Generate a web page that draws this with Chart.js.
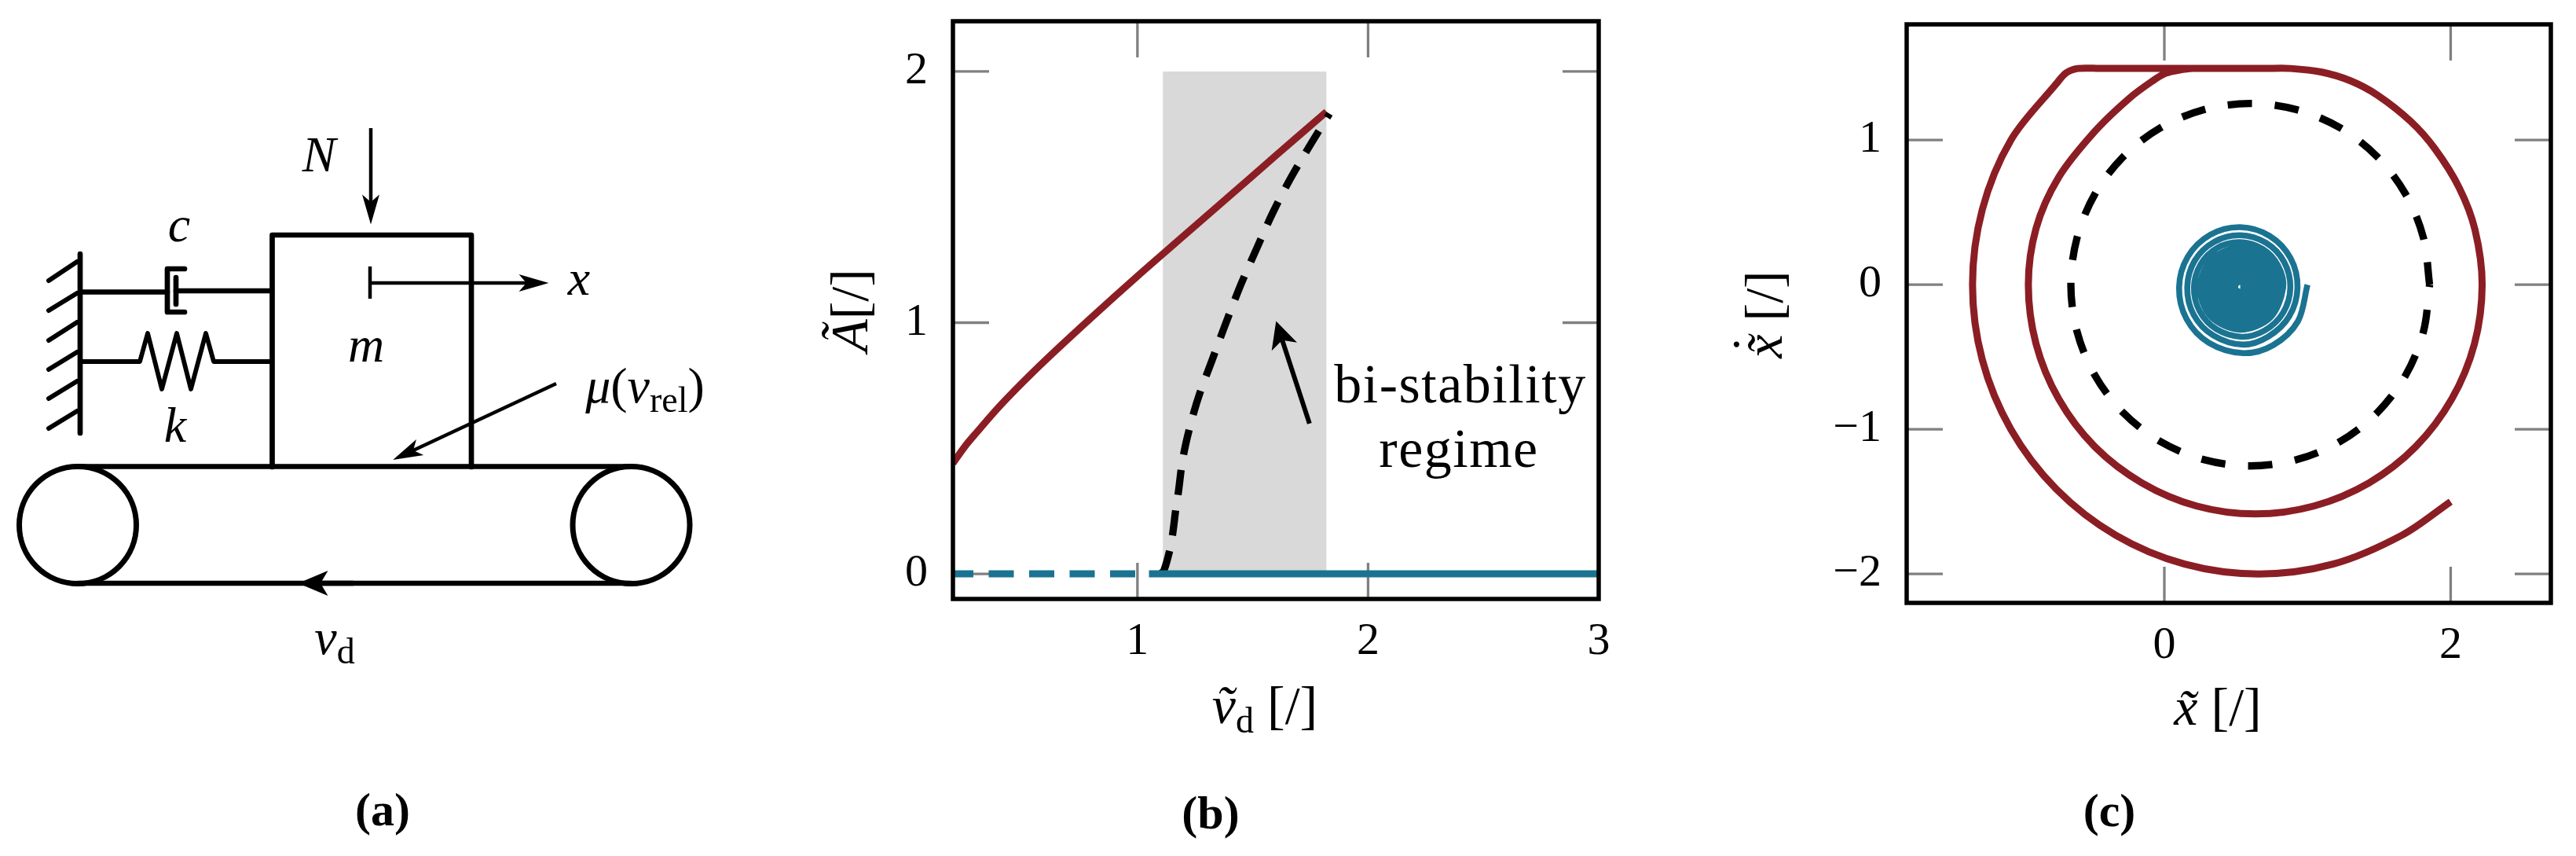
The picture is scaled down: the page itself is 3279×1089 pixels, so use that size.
<!DOCTYPE html>
<html>
<head>
<meta charset="utf-8">
<style>
  html, body { margin: 0; padding: 0; background: #fff; }
  canvas { position: absolute; left: 0; top: 0; }
</style>
<script src="https://cdn.jsdelivr.net/npm/chart.js@4/dist/chart.umd.min.js"></script>
</head>
<body>
<canvas id="panelA" width="1100" height="1089"></canvas>
<canvas id="panelB" width="3279" height="1089"></canvas>
<canvas id="panelC" width="3279" height="1089"></canvas>
<script>
const RED = '#8b1e24', BLUE = '#1b7392', GREY = '#d9d9d9', TICK = '#808080';
const SERIF = '"Liberation Serif"';

// panel (b)
const bTicksX = [1, 2, 3];
const bTicksY = [0, 1, 2];
const bandEdges = [[1.11, 2], [1.82, 2]];
const bUpper = [[0.2, 0.44], [0.25, 0.505], [0.3, 0.56], [0.4, 0.665], [0.5, 0.76], [0.6, 0.85], [0.8, 1.02], [1, 1.185], [1.2, 1.345], [1.4, 1.505], [1.6, 1.665], [1.82, 1.84]];
const bUnstable = [[1.1, 0], [1.115, 0.014], [1.141, 0.098], [1.153, 0.161], [1.166, 0.255], [1.177, 0.322], [1.197, 0.46], [1.231, 0.598], [1.27, 0.718], [1.323, 0.849], [1.38, 0.99], [1.449, 1.153], [1.517, 1.295], [1.586, 1.436], [1.666, 1.578], [1.757, 1.719], [1.833, 1.832]];
const bZeroDashed = [[0.2, 0], [1.05, 0]];
const bZeroSolid = [[1.05, 0], [3, 0]];
const bArrow = [[1.746, 0.598], [1.628, 0.93]];

// panel (c)
const cTicksX = [0, 2];
const cTicksY = [-2, -1, 0, 1];
const cRed = [[2, -1.5], [1.66, -1.732], [1.178, -1.932], [0.66, -2], [0.142, -1.932], [-0.34, -1.732], [-0.754, -1.414], [-1.072, -1], [-1.272, -0.518], [-1.34, 0], [-1.272, 0.518], [-1.072, 1], [-0.754, 1.39], [-0.685, 1.465], [-0.603, 1.495], [-0.45, 1.495], [0.7, 1.495], [0.88, 1.495], [1.1, 1.47], [1.3, 1.41], [1.49, 1.31], [1.72, 1.13], [1.89, 0.94], [2.06, 0.67], [2.17, 0.38], [2.22, 0], [2.166, -0.41], [2.008, -0.79], [1.756, -1.12], [1.43, -1.37], [1.045, -1.53], [0.635, -1.585], [0.225, -1.53], [-0.157, -1.37], [-0.486, -1.12], [-0.738, -0.79], [-0.896, -0.41], [-0.95, 0], [-0.896, 0.39], [-0.74, 0.74], [-0.484, 1.062], [-0.245, 1.289], [-0.082, 1.409], [0.009, 1.462], [0.1, 1.483], [0.2, 1.495], [0.4, 1.495]];
const cLimitCycle = [[1.853, 0], [1.81, -0.324], [1.685, -0.627], [1.486, -0.886], [1.227, -1.085], [0.924, -1.21], [0.6, -1.253], [0.276, -1.21], [-0.027, -1.085], [-0.286, -0.886], [-0.485, -0.627], [-0.61, -0.324], [-0.653, 0], [-0.61, 0.324], [-0.485, 0.627], [-0.286, 0.886], [-0.027, 1.085], [0.276, 1.21], [0.6, 1.253], [0.924, 1.21], [1.227, 1.085], [1.486, 0.886], [1.685, 0.627], [1.81, 0.324], [1.853, 0]];
const cSpiral = [
  [1, 0], [0.933, -0.253], [0.76, -0.418], [0.55, -0.473], [0.31, -0.401], [0.155, -0.237], [0.103, -0.02],
  [0.163, 0.192], [0.32, 0.345], [0.53, 0.398], [0.736, 0.337], [0.882, 0.183], [0.93, -0.02],
  [0.873, -0.218], [0.726, -0.359], [0.55, -0.414], [0.34, -0.349], [0.205, -0.208], [0.16, -0.02],
  [0.211, 0.164], [0.348, 0.296], [0.53, 0.342], [0.709, 0.29], [0.837, 0.157], [0.88, -0.02],
  [0.83, -0.193], [0.7, -0.317], [0.54, -0.36], [0.364, -0.308], [0.247, -0.184], [0.207, -0.02],
  [0.253, 0.14], [0.37, 0.255], [0.53, 0.294], [0.685, 0.248], [0.794, 0.133], [0.83, -0.02],
  [0.739, -0.229], [0.53, -0.311], [0.327, -0.223], [0.247, -0.02], [0.333, 0.177], [0.53, 0.254], [0.721, 0.171], [0.795, -0.02],
  [0.715, -0.205], [0.53, -0.276], [0.352, -0.198], [0.282, -0.02], [0.358, 0.152], [0.53, 0.219], [0.696, 0.146], [0.76, -0.02],
  [0.69, -0.18], [0.53, -0.242], [0.377, -0.173], [0.317, -0.02], [0.382, 0.128], [0.53, 0.184], [0.671, 0.121], [0.726, -0.02],
  [0.664, -0.154], [0.53, -0.205], [0.403, -0.147], [0.355, -0.02], [0.41, 0.1], [0.53, 0.145], [0.643, 0.093], [0.685, -0.02],
  [0.636, -0.126], [0.53, -0.165], [0.431, -0.119], [0.395, -0.02], [0.438, 0.072], [0.53, 0.105], [0.615, 0.065], [0.645, -0.02],
  [0.608, -0.098], [0.53, -0.125], [0.459, -0.091], [0.435, -0.02], [0.466, 0.044], [0.53, 0.065], [0.587, 0.037], [0.605, -0.02],
  [0.58, -0.07], [0.53, -0.086], [0.486, -0.064], [0.473, -0.02], [0.493, 0.017], [0.53, 0.029], [0.561, 0.011], [0.57, -0.02],
  [0.555, -0.045], [0.53, -0.051], [0.511, -0.039], [0.507, -0.02], [0.517, -0.007], [0.53, -0.006], [0.536, -0.014], [0.535, -0.02], [0.53, -0.02]
];

// panel (a), the friction oscillator sketch
const wall = [[102, 323], [102, 551]];
const hatches = [
  [[98, 333], [62, 357]], [[98, 373], [62, 395]], [[98, 410], [62, 433]],
  [[98, 448], [62, 470]], [[98, 485], [62, 507]], [[98, 523], [62, 545]]
];
const damperLeft = [[102, 371.5], [213, 371.5]];
const damperCup = [[235, 342], [213, 342], [213, 397], [235, 397]];
const damperPiston = [[224, 353], [224, 387]];
const damperRight = [[224, 370], [346, 370]];
const spring = [[102, 460], [178, 460], [188, 424], [206, 495], [225, 424], [243, 495], [262, 424], [272, 460], [346, 460]];
const block = [[346.5, 594], [346.5, 299], [600, 299], [600, 594]];
const beltTop = [[99, 593.5], [803, 593.5]];
const beltBottom = [[99, 742], [803, 742]];
const wheels = [[99, 668], [803.5, 668]];
const normalArrow = [[472, 163], [472, 257]];
const dispMark = [[471, 339], [471, 380]];
const dispArrow = [[471, 360], [670, 360]];
const muArrow = [[708, 488], [526, 573]];
const beltArrow = [[450, 742], [408, 742]];

// texts, x/y are the page baseline position
const BIG = 64, SUB = 46;
const notes = [
  { panel: 'A', x: 406, y: 218, parts: [{ t: 'N', i: 1 }] },
  { panel: 'A', x: 228, y: 307, parts: [{ t: 'c', i: 1 }] },
  { panel: 'A', x: 737, y: 375, parts: [{ t: 'x', i: 1 }] },
  { panel: 'A', x: 466, y: 460, parts: [{ t: 'm', i: 1 }] },
  { panel: 'A', x: 223, y: 562, parts: [{ t: 'k', i: 1 }] },
  { panel: 'A', x: 821, y: 512, parts: [{ t: 'μ', i: 1 }, { t: '(' }, { t: 'v', i: 1 }, { t: 'rel', sub: 1 }, { t: ')' }] },
  { panel: 'A', x: 426, y: 832, parts: [{ t: 'v', i: 1 }, { t: 'd', sub: 1 }] },
  { panel: 'A', x: 487, y: 1050, bold: 1, parts: [{ t: '(a)' }] },
  { panel: 'B', x: 1541, y: 1054, bold: 1, parts: [{ t: '(b)' }] },
  { panel: 'C', x: 2685, y: 1051, bold: 1, parts: [{ t: '(c)' }] },
  { panel: 'B', x: 1859, y: 512, size: 70, spacing: 1.5, parts: [{ t: 'bi-stability' }] },
  { panel: 'B', x: 1857, y: 594, size: 70, spacing: 1.5, parts: [{ t: 'regime' }] },
  { panel: 'B', x: 1610, y: 920, size: 68, parts: [{ t: 'v\u0303', i: 1 }, { t: 'd', sub: 1 }, { t: ' [/]' }] },
  { panel: 'B', x: 1104, y: 395, rot: 1, size: 68, parts: [{ t: 'A\u0303', i: 1 }, { t: '[/]' }] },
  { panel: 'C', x: 2823, y: 922, size: 68, parts: [{ t: 'x\u0303', i: 1 }, { t: ' [/]' }] },
  { panel: 'C', x: 2268, y: 400, rot: 1, size: 68, parts: [{ t: 'x\u0303', i: 1 }, { t: '\u02d9', back: 24, up: 16 }, { t: ' [/]' }] }
];

function segFont(p, n) {
  const size = n.size || (n.bold ? 60 : BIG);
  const s = p.sub ? SUB : size;
  return (n.bold ? 'bold ' : '') + (p.i ? 'italic ' : '') + s + 'px ' + SERIF;
}

const notesPlugin = {
  id: 'notes',
  afterDraw(chart) {
    const ctx = chart.ctx;
    const name = chart.canvas.id.replace('panel', '');
    notes.filter(n => n.panel === name).forEach(n => {
      ctx.save();
      ctx.fillStyle = '#000';
      ctx.textAlign = 'left';
      ctx.textBaseline = 'alphabetic';
      if (n.spacing) ctx.letterSpacing = n.spacing + 'px';
      let w = 0;
      n.parts.forEach(p => {
        ctx.font = segFont(p, n);
        if (!p.back) w += ctx.measureText(p.t).width;
      });
      ctx.translate(n.x, n.y);
      if (n.rot) ctx.rotate(-Math.PI / 2);
      let cx = -w / 2;
      n.parts.forEach(p => {
        ctx.font = segFont(p, n);
        if (p.back) {
          // accent stacked over the previous glyph, no advance
          ctx.fillText(p.t, cx - p.back, -p.up);
          return;
        }
        ctx.fillText(p.t, cx, p.sub ? 12 : 0);
        cx += ctx.measureText(p.t).width;
      });
      ctx.restore();
    });
  }
};

// stealth head past the last point of any dataset with arrowLen
const arrowPlugin = {
  id: 'arrowHeads',
  afterDatasetsDraw(chart) {
    const ctx = chart.ctx;
    chart.data.datasets.forEach((ds, i) => {
      if (!ds.arrowLen) return;
      const pts = chart.getDatasetMeta(i).data;
      const a = pts[pts.length - 2], b = pts[pts.length - 1];
      const d = Math.hypot(b.x - a.x, b.y - a.y);
      const ux = (b.x - a.x) / d, uy = (b.y - a.y) / d;
      const tipX = b.x + ux * ds.arrowLen * 0.75, tipY = b.y + uy * ds.arrowLen * 0.75;
      const bx = tipX - ux * ds.arrowLen, by = tipY - uy * ds.arrowLen;
      const half = ds.arrowWid / 2;
      ctx.save();
      ctx.fillStyle = '#000';
      ctx.beginPath();
      ctx.moveTo(tipX, tipY);
      ctx.lineTo(bx - uy * half, by + ux * half);
      ctx.lineTo(b.x, b.y);
      ctx.lineTo(bx + uy * half, by - ux * half);
      ctx.closePath();
      ctx.fill();
      ctx.restore();
    });
  }
};

// inward ticks on all four sides, under the data, and the frame over it
const frameTicks = {
  id: 'frameTicks',
  beforeDatasetsDraw(chart) {
    const { ctx, chartArea: c, scales } = chart;
    const len = 46;
    ctx.save();
    ctx.strokeStyle = TICK;
    ctx.lineWidth = 3.3;
    ctx.beginPath();
    scales.x.ticks.forEach(t => {
      const p = scales.x.getPixelForValue(t.value);
      ctx.moveTo(p, c.top); ctx.lineTo(p, c.top + len);
      ctx.moveTo(p, c.bottom); ctx.lineTo(p, c.bottom - len);
    });
    scales.y.ticks.forEach(t => {
      const p = scales.y.getPixelForValue(t.value);
      ctx.moveTo(c.left, p); ctx.lineTo(c.left + len, p);
      ctx.moveTo(c.right, p); ctx.lineTo(c.right - len, p);
    });
    ctx.stroke();
    ctx.restore();
  },
  afterDatasetsDraw(chart) {
    const { ctx, chartArea: c } = chart;
    ctx.save();
    ctx.strokeStyle = '#000';
    ctx.lineWidth = 5.5;
    ctx.strokeRect(c.left, c.top, c.width, c.height);
    ctx.restore();
  }
};

function line(data, color, width, extra) {
  return Object.assign({ data: data, borderColor: color, borderWidth: width, pointRadius: 0, showLine: true, fill: false, tension: 0 }, extra);
}

function tickLabel(v) {
  return v < 0 ? '\u2212' + Math.abs(v) : String(v);
}

function plotOptions(frame, xr, yr, xt, yt) {
  const yW = 100, xH = 100;
  const noPad = s => { s.paddingTop = s.paddingBottom = s.paddingLeft = s.paddingRight = 0; };
  const axis = (range, ticks, pad) => ({
    type: 'linear',
    min: range[0],
    max: range[1],
    grid: { display: false },
    border: { display: false },
    afterBuildTicks(s) { s.ticks = ticks.map(v => ({ value: v })); },
    ticks: { padding: pad, autoSkip: false, maxRotation: 0, minRotation: 0, color: '#000', font: { family: SERIF, size: 58 }, callback: tickLabel }
  });
  const x = axis(xr, xt, 12);
  x.afterFit = s => { s.height = xH; noPad(s); };
  const y = axis(yr, yt, 24);
  y.afterFit = s => { s.width = yW; noPad(s); };
  return {
    responsive: false,
    animation: false,
    devicePixelRatio: 1,
    layout: { autoPadding: false, padding: { left: frame.left - yW, top: frame.top, right: 3279 - frame.right, bottom: 1089 - frame.bottom - xH } },
    plugins: { legend: { display: false }, tooltip: { enabled: false } },
    scales: { x: x, y: y }
  };
}

new Chart(document.getElementById('panelB'), {
  type: 'scatter',
  data: {
    datasets: [
      line(bArrow, '#000', 6, { arrowLen: 34, arrowWid: 34 }),
      line(bZeroSolid, BLUE, 9),
      line(bZeroDashed, BLUE, 9, { borderDash: [32, 19.5], borderDashOffset: 6 }),
      line(bUnstable, '#000', 9.3, { borderDash: [32, 20], tension: 0.33 }),
      line(bUpper, RED, 9, { tension: 0.33 }),
      line(bandEdges, GREY, 0, { fill: 'origin', backgroundColor: GREY })
    ]
  },
  options: plotOptions({ left: 1213, right: 2035, top: 27, bottom: 762 }, [0.2, 3], [-0.1, 2.2], bTicksX, bTicksY),
  plugins: [frameTicks, arrowPlugin, notesPlugin]
});

new Chart(document.getElementById('panelC'), {
  type: 'scatter',
  data: {
    datasets: [
      line(cSpiral, BLUE, 7.6, { tension: 0.33 }),
      line(cLimitCycle, '#000', 9.3, { borderDash: [31, 29], borderDashOffset: 28, tension: 0.33 }),
      line(cRed, RED, 9, { tension: 0.33 })
    ]
  },
  options: plotOptions({ left: 2427, right: 3247, top: 31, bottom: 767 }, [-1.8, 2.7], [-2.2, 1.8], cTicksX, cTicksY),
  plugins: [frameTicks, notesPlugin]
});

const THICK = 6.7, THIN = 4.5;
const stroke = (data, width, extra) => line(data, '#000', width, Object.assign({ borderCapStyle: 'round', borderJoinStyle: 'round' }, extra));
const sketch = [
  stroke(wall, THICK),
  ...hatches.map(h => stroke(h, 6)),
  stroke(damperLeft, THICK),
  stroke(damperCup, THICK),
  stroke(damperPiston, THICK),
  stroke(damperRight, THICK),
  stroke(spring, 5.8),
  stroke(block, THICK),
  stroke(beltTop, THICK),
  stroke(beltBottom, THICK),
  line(wheels, '#000', THICK, { showLine: false, pointRadius: 74.5, backgroundColor: 'rgba(0,0,0,0)', pointBorderColor: '#000', pointBorderWidth: 7 }),
  line(normalArrow, '#000', THIN, { arrowLen: 38, arrowWid: 22 }),
  line(dispMark, '#000', THIN),
  line(dispArrow, '#000', THIN, { arrowLen: 38, arrowWid: 22 }),
  line(muArrow, '#000', THIN, { arrowLen: 38, arrowWid: 22 }),
  line(beltArrow, '#000', THICK, { arrowLen: 38, arrowWid: 32 })
];

new Chart(document.getElementById('panelA'), {
  type: 'scatter',
  data: { datasets: sketch },
  options: {
    responsive: false,
    animation: false,
    devicePixelRatio: 1,
    clip: false,
    layout: { autoPadding: false },
    plugins: { legend: { display: false }, tooltip: { enabled: false } },
    scales: {
      x: { display: false, min: 0, max: 1100 },
      y: { display: false, min: 0, max: 1089, reverse: true }
    }
  },
  plugins: [arrowPlugin, notesPlugin]
});
</script>
</body>
</html>
